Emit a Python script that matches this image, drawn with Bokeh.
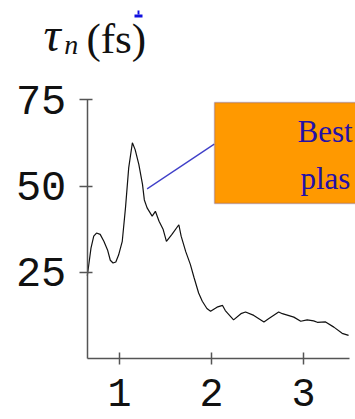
from bokeh.plotting import figure
from bokeh.models import Range1d, FixedTicker, Label, BoxAnnotation
from bokeh.embed import file_html
from bokeh.resources import INLINE

# ---- data ----
energy = [0.65, 0.67, 0.69, 0.72, 0.75, 0.79, 0.83, 0.87, 0.90, 0.93, 0.96, 0.99,
          1.03, 1.065, 1.10, 1.14, 1.17, 1.21, 1.25, 1.27, 1.30, 1.355, 1.39, 1.43,
          1.475, 1.51, 1.57, 1.645, 1.67, 1.72, 1.77, 1.81, 1.86, 1.90, 1.95, 1.99,
          2.06, 2.12, 2.15, 2.24, 2.32, 2.37, 2.46, 2.57, 2.62, 2.73, 2.77, 2.895,
          2.97, 3.04, 3.11, 3.15, 3.24, 3.33, 3.42, 3.49]
tau = [24, 28, 32, 35.5, 36.4, 36, 34, 31.5, 28.5, 27.7, 28, 30,
       34, 43.7, 55.3, 62.6, 60.6, 56.3, 50.5, 46, 43.7, 41.3, 42.7, 39.8,
       37.4, 34, 36, 38.8, 35.5, 31, 27.3, 23.5, 19, 16.6, 14.5, 13.7,
       14.9, 15.4, 13.9, 11.2, 13.0, 13.5, 12.5, 10.6, 11.5, 13.5, 13.0, 12.0,
       10.8, 11.2, 10.9, 10.5, 10.6, 9.1, 7.3, 6.7]
x_ticks = [1, 2, 3]
y_ticks = [25, 50, 75]
pointer_x = [1.30, 2.03]
pointer_y = [49.2, 62.2]
box_left, box_right, box_bottom, box_top = 2.033, 4.5, 45.0, 74.3

p = figure(width=355, height=419, x_range=Range1d(-0.2935, 3.5652), y_range=Range1d(-17.70, 103.86),
           output_backend="svg", toolbar_location=None,
           min_border_left=0, min_border_right=0, min_border_top=0, min_border_bottom=0)
p.outline_line_color = None
p.grid.visible = False
p.background_fill_color = "white"

for ax in (p.xaxis[0], p.yaxis[0]):
    ax.axis_line_color = "#555555"
    ax.axis_line_width = 1.5
    ax.major_tick_line_color = "#555555"
    ax.major_tick_line_width = 1.5
    ax.minor_tick_line_color = None
    ax.major_label_text_font = "Liberation Mono"
    ax.major_label_text_color = "#111111"

p.xaxis.fixed_location = 0
p.yaxis.fixed_location = 0.65
p.xaxis.ticker = FixedTicker(ticks=x_ticks)
p.yaxis.ticker = FixedTicker(ticks=y_ticks)
p.xaxis.bounds = (0.65, 3.5)
p.yaxis.bounds = (0, 75)
p.xaxis.major_tick_in = 6
p.xaxis.major_tick_out = 6
p.yaxis.major_tick_in = 5
p.yaxis.major_tick_out = 8
p.xaxis.major_label_text_font_size = "40px"
p.yaxis.major_label_text_font_size = "42px"
p.xaxis.major_label_standoff = 15
p.yaxis.major_label_standoff = 13

p.line(energy, tau, line_color="#111111", line_width=1.2)

p.add_layout(BoxAnnotation(left=box_left, right=box_right, bottom=box_bottom, top=box_top,
                           fill_color="#FF9900", fill_alpha=1.0,
                           line_color="#4B3A9E", line_width=1.5))
p.line(pointer_x, pointer_y, line_color="#4040C8", line_width=1.3)

serif = "Liberation Serif"
p.add_layout(Label(x=2.935, y=65.9, text="Best", text_font=serif, text_font_size="31px",
                   text_color="#2410A8", text_baseline="alphabetic"))
p.add_layout(Label(x=2.967, y=52.2, text="plas", text_font=serif, text_font_size="31px",
                   text_color="#2410A8", text_baseline="alphabetic"))

# axis title
p.add_layout(Label(x=0.174, y=94.0, text="τ", text_font=serif, text_font_size="48px",
                   text_font_style="italic", text_color="#111111", text_baseline="alphabetic"))
p.add_layout(Label(x=0.40, y=91.2, text="n", text_font=serif, text_font_size="28px",
                   text_font_style="italic", text_color="#111111", text_baseline="alphabetic"))
p.add_layout(Label(x=0.64, y=92.9, text="(fs)", text_font=serif, text_font_size="43px",
                   text_color="#111111", text_baseline="alphabetic"))

# small blue fragment at top
p.add_layout(BoxAnnotation(left=1.163, right=1.25, bottom=98.9, top=99.8,
                           fill_color="#1010E0", fill_alpha=1.0, line_color=None))
p.add_layout(BoxAnnotation(left=1.196, right=1.217, bottom=99.8, top=100.96,
                           fill_color="#1010E0", fill_alpha=1.0, line_color=None))

open("out.html", "w").write(file_html(p, INLINE))
